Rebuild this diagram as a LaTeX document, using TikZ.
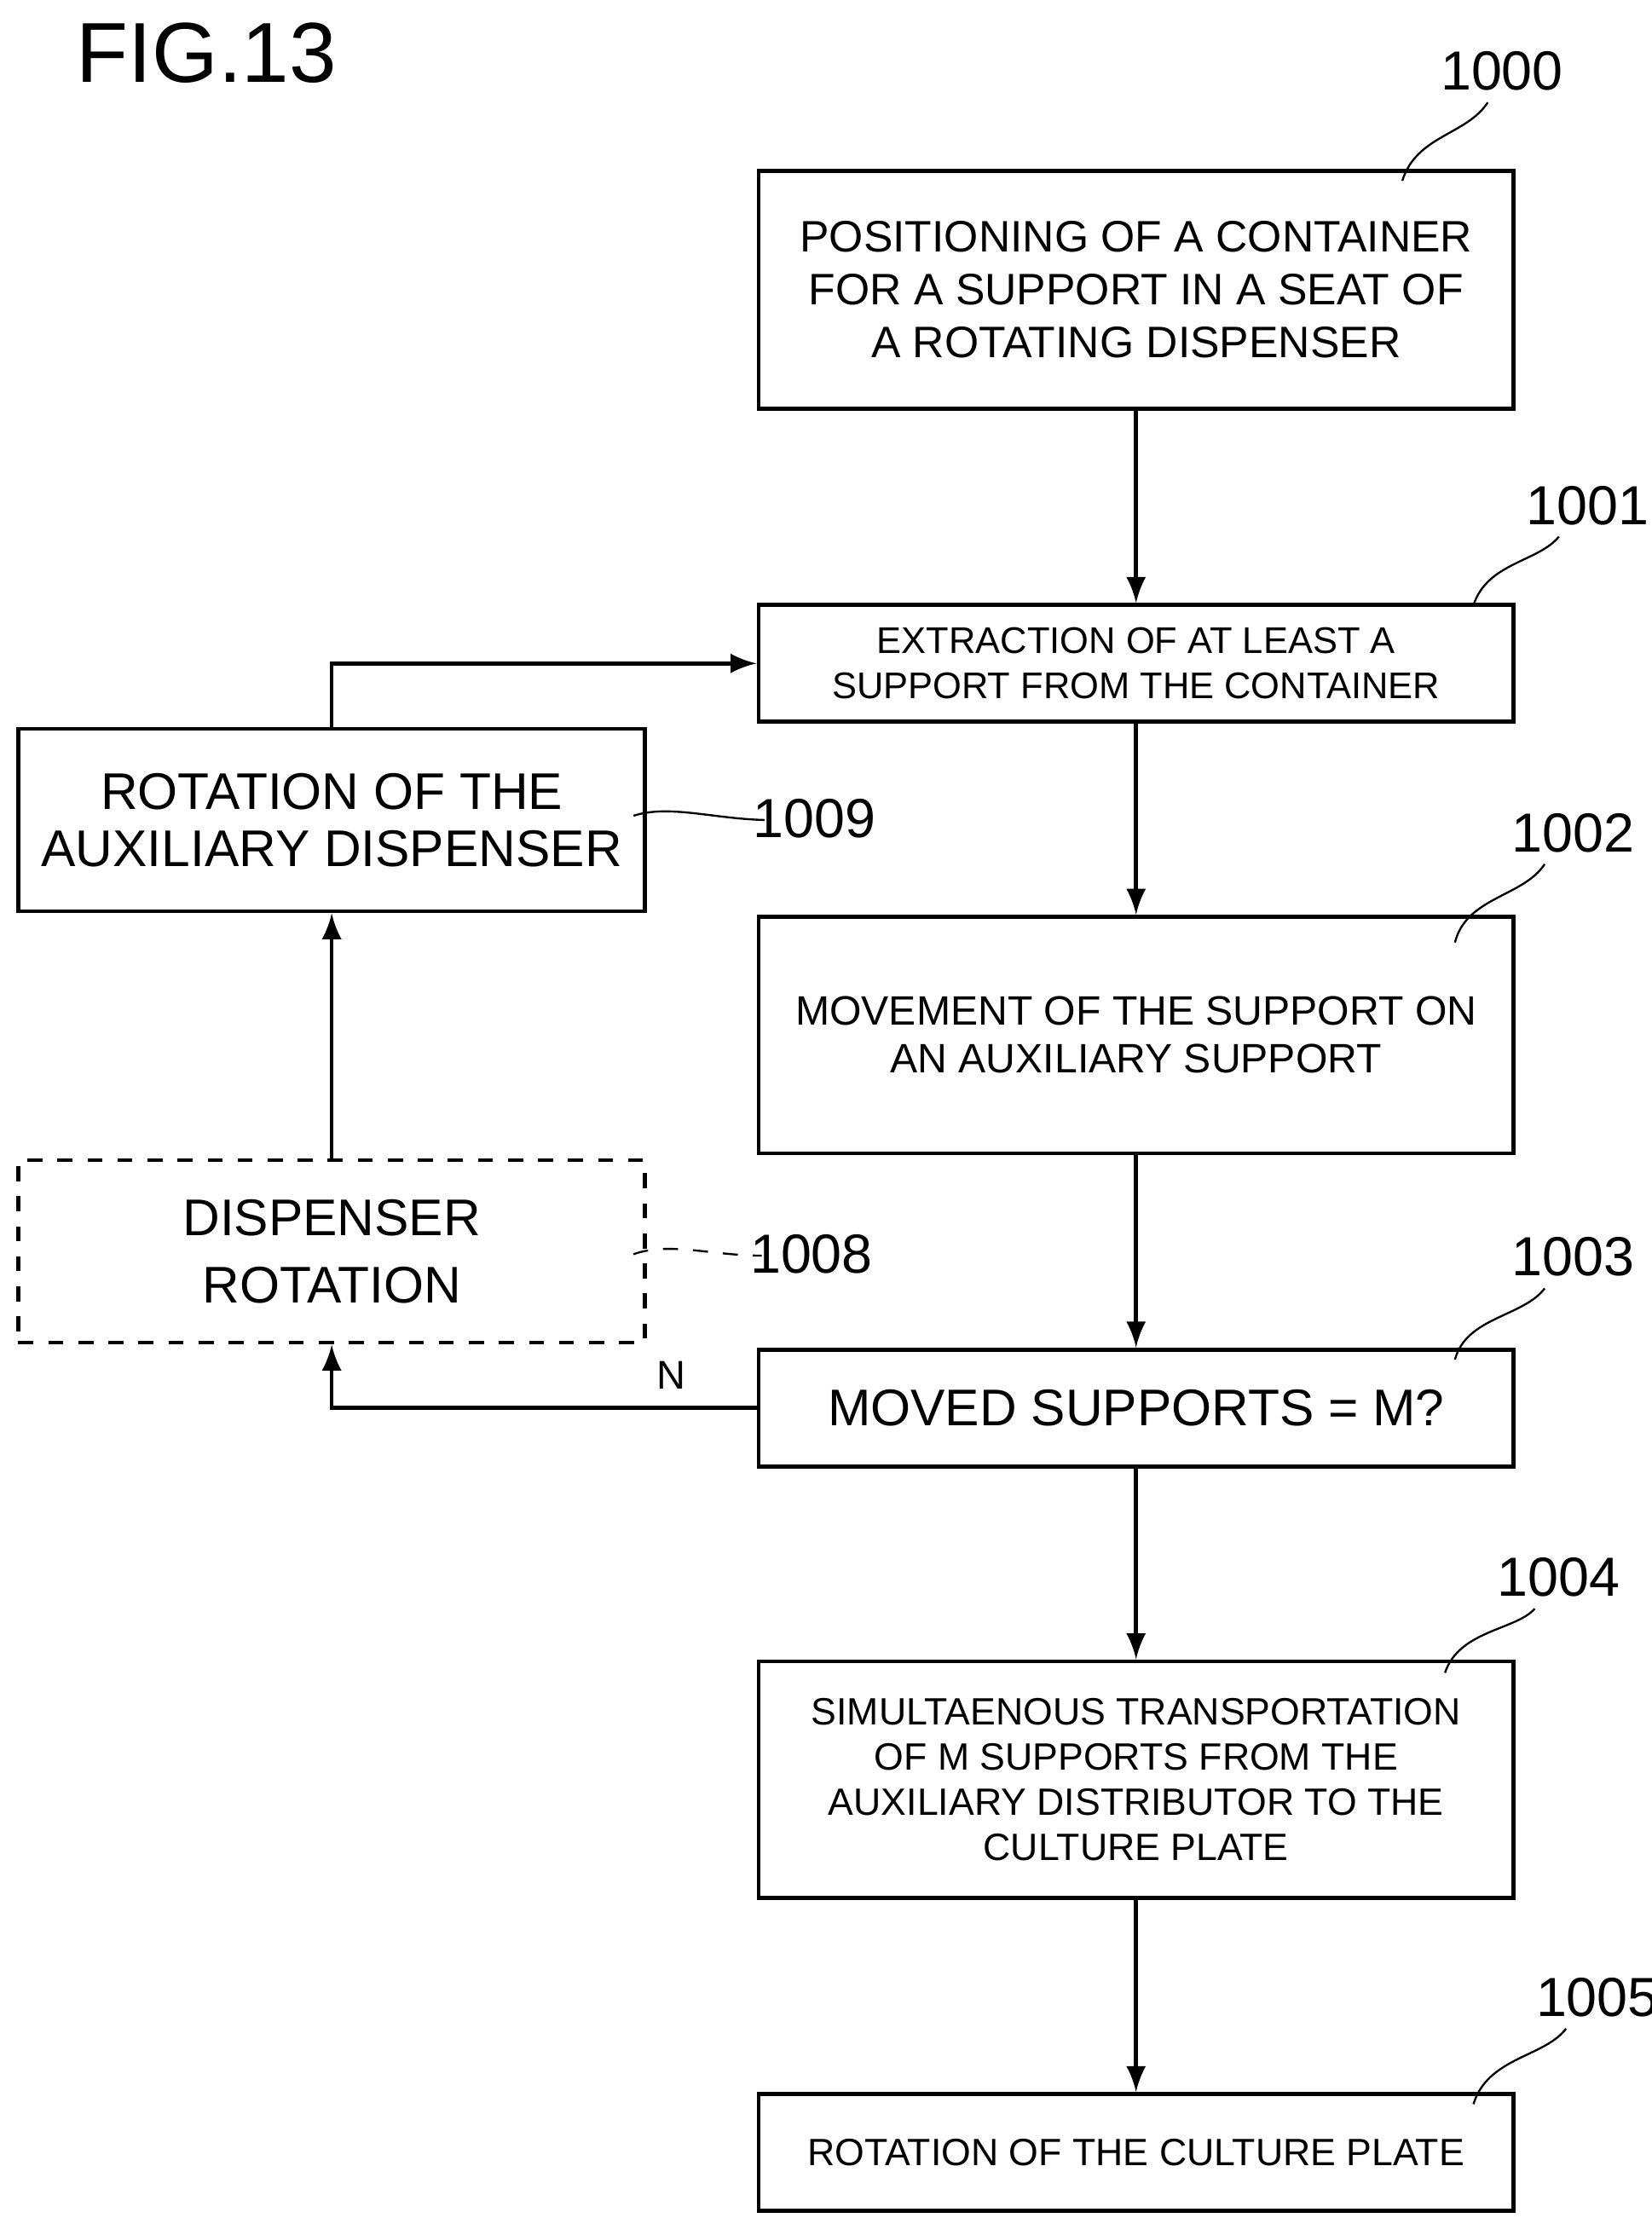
\documentclass[tikz,border=0pt]{standalone}
\usepackage{fontspec}
\setmainfont{Liberation Sans}
\usetikzlibrary{positioning}
\tikzset{
  stepbox/.style={draw, thick, minimum width=5.3cm, align=center, inner sep=0pt},
  flow/.style={->, >=latex, thick},
  lead/.style={thin},
  refno/.style={font=\fontsize{11}{13}\selectfont}
}
\begin{document}
\begin{tikzpicture}[x=0.01cm,y=-0.01cm]
\useasboundingbox (0,0) rectangle (1160,1558);
\node[font=\fontsize{17}{20}\selectfont] (fig) at (145,37) {FIG.13};
% main column
\node[stepbox, minimum height=1.67cm, font=\fontsize{8.8}{10.5}\selectfont] (s1000) at (798,203.5)
  {POSITIONING OF A CONTAINER\\FOR A SUPPORT IN A SEAT OF\\A ROTATING DISPENSER};
\node[stepbox, minimum height=0.82cm, font=\fontsize{7.4}{9}\selectfont] (s1001) at (798,466)
  {EXTRACTION OF AT LEAST A\\SUPPORT FROM THE CONTAINER};
\node[stepbox, minimum height=1.66cm, font=\fontsize{8.2}{9.5}\selectfont] (s1002) at (798,727)
  {MOVEMENT OF THE SUPPORT ON\\AN AUXILIARY SUPPORT};
\node[stepbox, minimum height=0.82cm, font=\fontsize{10.3}{12}\selectfont] (s1003) at (798,989)
  {MOVED SUPPORTS = M?};
\node[stepbox, minimum height=1.66cm, font=\fontsize{7.6}{9}\selectfont] (s1004) at (798,1250)
  {SIMULTAENOUS TRANSPORTATION\\OF M SUPPORTS FROM THE\\AUXILIARY DISTRIBUTOR TO THE\\CULTURE PLATE};
\node[stepbox, minimum height=0.82cm, font=\fontsize{7.6}{9}\selectfont] (s1005) at (798,1512)
  {ROTATION OF THE CULTURE PLATE};
% side column
\node[stepbox, minimum width=4.4cm, minimum height=1.28cm, font=\fontsize{10.3}{11.5}\selectfont] (s1009) at (233,576)
  {ROTATION OF THE\\AUXILIARY DISPENSER};
\node[stepbox, dashed, minimum width=4.4cm, minimum height=1.28cm, font=\fontsize{10.3}{13.5}\selectfont] (s1008) at (233,879)
  {DISPENSER\\ROTATION};
% connectors
\draw[flow] (s1000) -- (s1001);
\draw[flow] (s1001) -- (s1002);
\draw[flow] (s1002) -- (s1003);
\draw[flow] (s1003) -- (s1004);
\draw[flow] (s1004) -- (s1005);
\draw[flow] (s1003.west) -| node[pos=0.1, above, font=\fontsize{8}{9}\selectfont] {N} (s1008.south);
\draw[flow] (s1008) -- (s1009);
\draw[flow] (s1009.north) |- (s1001.west);
% reference numbers
\node[refno] (n1000) at (1055,50) {1000};
\node[refno] (n1001) at (1115,355) {1001};
\node[refno] (n1002) at (1105,585) {1002};
\node[refno] (n1003) at (1105,883) {1003};
\node[refno] (n1004) at (1095,1108) {1004};
\node[refno] (n1005) at (1122,1403) {1005};
\node[refno] (n1009) at (572,575) {1009};
\node[refno] (n1008) at (570,881) {1008};
\draw[lead] (985,127) .. controls (995,95) and (1030,95) .. (1045,72);
\draw[lead] (1035,425) .. controls (1045,395) and (1080,395) .. (1095,377);
\draw[lead] (1022,662) .. controls (1030,630) and (1070,630) .. (1085,607);
\draw[lead] (1022,955) .. controls (1030,925) and (1070,925) .. (1085,905);
\draw[lead] (1015,1175) .. controls (1025,1145) and (1065,1145) .. (1078,1130);
\draw[lead] (1035,1478) .. controls (1045,1445) and (1085,1445) .. (1100,1425);
\draw[lead] (445,573) .. controls (470,565) and (500,575) .. (537,576);
\draw[lead, dashed] (445,881) .. controls (470,872) and (500,882) .. (535,882);
\end{tikzpicture}
\end{document}
